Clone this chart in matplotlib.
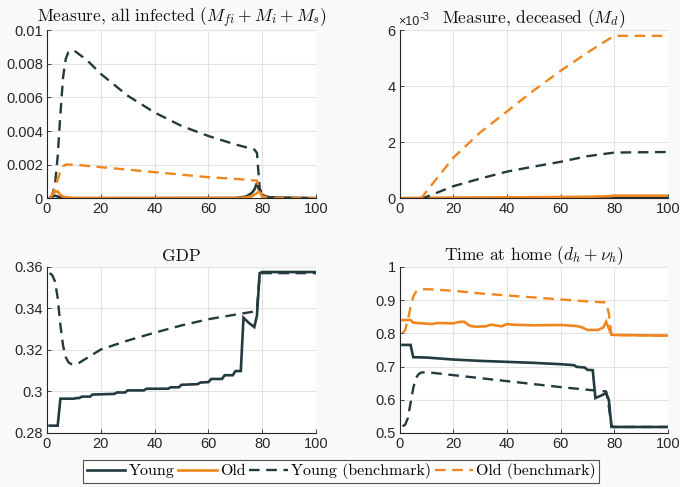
import matplotlib
matplotlib.use('Agg')
import matplotlib.pyplot as plt
from matplotlib.ticker import FuncFormatter

plt.rcParams['mathtext.fontset'] = 'cm'
plt.rcParams['font.family'] = ['Liberation Sans', 'DejaVu Sans']
plt.rcParams['axes.formatter.use_mathtext'] = False

DARK = '#233a3e'
ORANGE = '#f0861e'
SERIF = 'cmr10'

# ---- panel 1: measure, all infected ----
inf_yb_t = [1, 2, 3, 4, 5, 6, 7, 8, 10, 15, 20, 30, 40, 50, 60, 70, 77, 78, 79, 80, 82, 85, 100]
inf_yb_v = [0, 0.0002, 0.0008, 0.0025, 0.005, 0.0072, 0.0083, 0.0087, 0.0088, 0.0082, 0.0074, 0.0061,
            0.0051, 0.0043, 0.0037, 0.0032, 0.0029, 0.0027, 0.0006, 0.0002, 0.00008, 0.00002, 0]
inf_ob_t = [1, 2, 3, 4, 5, 6, 7, 10, 20, 30, 40, 50, 60, 70, 78, 79, 80, 85, 100]
inf_ob_v = [0, 0.0002, 0.0006, 0.0011, 0.0016, 0.0019, 0.002, 0.002, 0.00185, 0.0017, 0.00155,
            0.0014, 0.00125, 0.00115, 0.00105, 0.0004, 0.0001, 0, 0]
inf_y_t = [1, 2, 3, 4, 5, 6, 8, 10, 70, 74, 76, 77, 78, 79, 80, 82, 100]
inf_y_v = [0, 0.0001, 0.00015, 0.0001, 0.00005, 0.00003, 0.00001, 0, 0.00001, 0.0001, 0.0003,
           0.0005, 0.0009, 0.0004, 0.0002, 0.00005, 0]
inf_o_t = [1, 2, 3, 4, 5, 6, 8, 10, 70, 74, 76, 77, 78, 79, 80, 82, 100]
inf_o_v = [0, 0.0002, 0.0004, 0.0004, 0.0002, 0.0001, 0.00003, 0.00001, 0.00001, 0.00005, 0.0001,
           0.0002, 0.0003, 0.00045, 0.0001, 0.00002, 0]

# ---- panel 2: measure, deceased (x 1e-3) ----
dec_ob_t = [1, 8, 10, 20, 30, 40, 50, 60, 70, 80, 100]
dec_ob_v = [0, 0, 0.25, 1.45, 2.35, 3.1, 3.85, 4.55, 5.2, 5.8, 5.8]
dec_yb_t = [1, 9, 10, 20, 30, 40, 50, 60, 70, 80, 100]
dec_yb_v = [0, 0, 0.05, 0.43, 0.7, 0.95, 1.13, 1.3, 1.5, 1.63, 1.65]
dec_o_t = [1, 10, 40, 70, 78, 80, 100]
dec_o_v = [0, 0.01, 0.03, 0.05, 0.07, 0.09, 0.09]
dec_y_t = [1, 40, 78, 80, 100]
dec_y_v = [0, 0.005, 0.01, 0.02, 0.02]

# ---- panel 3: GDP ----
gdp_y_t = [1, 4, 5, 10, 11, 12, 13, 16, 17, 25, 26, 29, 30, 36, 37, 45, 46, 49, 50, 56, 57, 60,
           61, 65, 66, 69, 70, 72, 73, 75, 77, 78, 79, 80, 100]
gdp_y_v = [0.2835, 0.2835, 0.2965, 0.2965, 0.2968, 0.2968, 0.2975, 0.2975, 0.2985, 0.2988, 0.2995,
           0.2995, 0.3005, 0.3005, 0.3013, 0.3013, 0.302, 0.302, 0.3032, 0.3035, 0.3043, 0.3045,
           0.306, 0.306, 0.3078, 0.3078, 0.3098, 0.3098, 0.3355, 0.333, 0.331, 0.3365, 0.357,
           0.3575, 0.3575]
gdp_yb_t = [1, 2, 3, 4, 5, 6, 7, 8, 9, 10, 12, 20, 30, 40, 50, 60, 70, 77, 78, 79, 80, 100]
gdp_yb_v = [0.357, 0.356, 0.353, 0.345, 0.332, 0.322, 0.3165, 0.314, 0.3132, 0.313, 0.3138,
            0.3202, 0.3245, 0.3283, 0.3318, 0.3348, 0.337, 0.3385, 0.34, 0.356, 0.357, 0.357]

# ---- panel 4: time at home ----
home_ob_t = [1, 2, 3, 4, 5, 6, 7, 8, 10, 20, 30, 40, 50, 60, 70, 77, 78, 79, 80, 100]
home_ob_v = [0.80, 0.81, 0.84, 0.88, 0.91, 0.925, 0.93, 0.932, 0.933, 0.928, 0.92, 0.914, 0.908,
             0.902, 0.896, 0.893, 0.86, 0.795, 0.795, 0.793]
home_o_t = [1, 4, 5, 10, 12, 14, 20, 22, 24, 26, 28, 32, 34, 38, 40, 42, 50, 60, 66, 68, 70, 74,
            76, 77, 78, 79, 80, 100]
home_o_v = [0.84, 0.84, 0.832, 0.829, 0.828, 0.831, 0.83, 0.834, 0.835, 0.823, 0.82, 0.821, 0.826,
            0.821, 0.828, 0.826, 0.824, 0.825, 0.822, 0.818, 0.81, 0.81, 0.818, 0.835, 0.815,
            0.796, 0.795, 0.793]
home_y_t = [1, 4, 5, 10, 20, 30, 40, 50, 60, 65, 66, 69, 70, 72, 73, 75, 77, 78, 79, 80, 100]
home_y_v = [0.765, 0.765, 0.728, 0.727, 0.721, 0.717, 0.714, 0.711, 0.707, 0.704, 0.699, 0.697,
            0.69, 0.689, 0.605, 0.612, 0.62, 0.6, 0.518, 0.518, 0.518]
home_yb_t = [1, 2, 3, 4, 5, 6, 7, 8, 10, 20, 30, 40, 50, 60, 70, 77, 78, 79, 80, 100]
home_yb_v = [0.52, 0.525, 0.545, 0.59, 0.635, 0.665, 0.677, 0.682, 0.683, 0.674, 0.665, 0.656,
             0.647, 0.638, 0.63, 0.625, 0.58, 0.52, 0.518, 0.518]

titles = [r'Measure, all infected $(M_{fi} + M_i + M_s)$',
          r'Measure, deceased $(M_d)$',
          'GDP',
          r'Time at home $(d_h + \nu_h)$']
legend_labels = ['Young', 'Old', 'Young (benchmark)', 'Old (benchmark)']

fig = plt.figure(figsize=(6.8, 4.87), dpi=100, facecolor='#f9f9f9')
ax1 = fig.add_axes([0.069, 0.593, 0.396, 0.345])
ax2 = fig.add_axes([0.588, 0.593, 0.394, 0.345])
ax3 = fig.add_axes([0.069, 0.111, 0.396, 0.341])
ax4 = fig.add_axes([0.588, 0.111, 0.394, 0.341])

SOLID = dict(lw=1.9, solid_joinstyle='miter')
DASH = dict(lw=1.7, dashes=(4.5, 2.8))

l_y, = ax1.plot(inf_y_t, inf_y_v, color=DARK, **SOLID)
l_o, = ax1.plot(inf_o_t, inf_o_v, color=ORANGE, **SOLID)
l_yb, = ax1.plot(inf_yb_t, inf_yb_v, color=DARK, **DASH)
l_ob, = ax1.plot(inf_ob_t, inf_ob_v, color=ORANGE, **DASH)
ax1.set_ylim(0, 0.01)
ax1.set_yticks([0, 0.002, 0.004, 0.006, 0.008, 0.01])

ax2.plot(dec_y_t, dec_y_v, color=DARK, **SOLID)
ax2.plot(dec_o_t, dec_o_v, color=ORANGE, **SOLID)
ax2.plot(dec_yb_t, dec_yb_v, color=DARK, **DASH)
ax2.plot(dec_ob_t, dec_ob_v, color=ORANGE, **DASH)
ax2.set_ylim(0, 6)
ax2.set_yticks([0, 2, 4, 6])

ax3.plot(gdp_y_t, gdp_y_v, color=DARK, **SOLID)
ax3.plot(gdp_yb_t, gdp_yb_v, color=DARK, **DASH)
ax3.set_ylim(0.28, 0.36)
ax3.set_yticks([0.28, 0.3, 0.32, 0.34, 0.36])

ax4.plot(home_yb_t, home_yb_v, color=DARK, **DASH)
ax4.plot(home_ob_t, home_ob_v, color=ORANGE, **DASH)
ax4.plot(home_o_t, home_o_v, color=ORANGE, **SOLID)
ax4.plot(home_y_t, home_y_v, color=DARK, **SOLID)
ax4.set_ylim(0.5, 1)
ax4.set_yticks([0.5, 0.6, 0.7, 0.8, 0.9, 1])

fmt = FuncFormatter(lambda v, p: '%g' % round(v, 6))
for ax, ttl in zip([ax1, ax2, ax3, ax4], titles):
    ax.set_xlim(0, 100)
    ax.set_xticks([0, 20, 40, 60, 80, 100])
    ax.yaxis.set_major_formatter(fmt)
    ax.set_facecolor('white')
    ax.grid(True, color='#e3e3e3', lw=0.8)
    ax.set_axisbelow(True)
    for s in ['top', 'right']:
        ax.spines[s].set_visible(False)
    for s in ['left', 'bottom']:
        ax.spines[s].set_color('#262626')
        ax.spines[s].set_linewidth(0.8)
    ax.tick_params(direction='in', length=3, width=0.6, colors='#262626',
                   labelsize=10.5, pad=3)
    ax.set_title(ttl, fontfamily=SERIF, fontsize=12.5, pad=4, color='#111111')

ax2.text(-0.005, 1.015, u'\u00d710', transform=ax2.transAxes, fontsize=9,
         color='#262626', ha='left', va='bottom')
ax2.text(0.075, 1.05, '-3', transform=ax2.transAxes, fontsize=8,
         color='#262626', ha='left', va='bottom')

leg = fig.legend([l_y, l_o, l_yb, l_ob], legend_labels, loc='center',
                 bbox_to_anchor=(0.502, 0.032), ncol=4, frameon=True, fancybox=False,
                 prop={'family': SERIF, 'size': 11.5}, handlelength=2.4, handletextpad=0.2,
                 columnspacing=0.25, borderpad=0.22, borderaxespad=0)
leg.get_frame().set_edgecolor('#262626')
leg.get_frame().set_linewidth(0.8)
leg.get_frame().set_facecolor('white')

fig.savefig('out.png', dpi=100, facecolor=fig.get_facecolor())
